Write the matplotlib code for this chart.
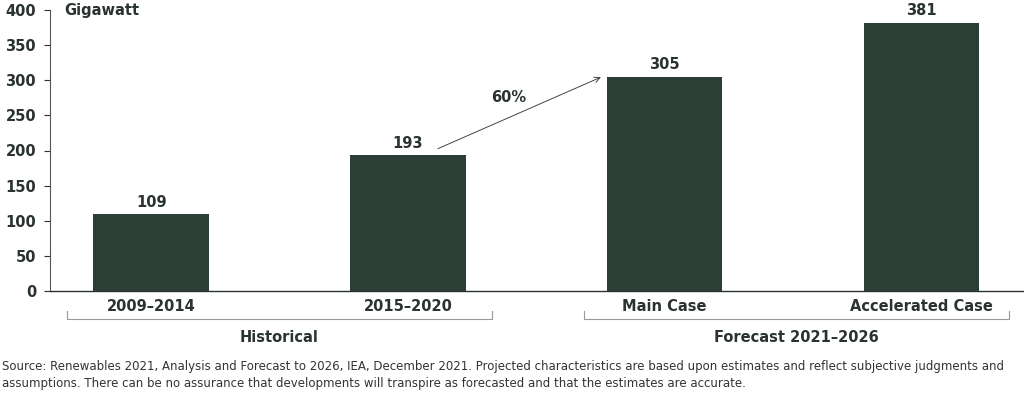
import matplotlib.pyplot as plt

# data
categories = ["2009–2014", "2015–2020", "Main Case", "Accelerated Case"]
values = [109, 193, 305, 381]
yticks = [0, 50, 100, 150, 200, 250, 300, 350, 400]
groups = ["Historical", "Forecast 2021–2026"]
growth_label = "60%"
source = ("Source: Renewables 2021, Analysis and Forecast to 2026, IEA, December 2021. Projected characteristics "
          "are based upon estimates and reflect subjective judgments and\nassumptions. There can be no assurance "
          "that developments will transpire as forecasted and that the estimates are accurate.")

dark = "#2c3f37"
txt = "#2a332f"
plt.rcParams["font.family"] = "DejaVu Sans"

fig = plt.figure(figsize=(10.24, 3.99), dpi=100)
ax = fig.add_axes([50 / 1024, 108 / 399, 974 / 1024, 281 / 399])

x = list(range(len(categories)))
ax.bar(x, values, width=0.45, color=dark)
for xi, v in zip(x, values):
    ax.text(xi, v + 7, str(v), ha="center", va="bottom", fontsize=10.5,
            fontweight="bold", color=txt)

ax.set_xlim(-0.394, 3.40)
ax.set_ylim(0, 400)
ax.set_yticks(yticks)
ax.set_xticks(x)
ax.set_xticklabels(categories, fontsize=10.5, fontweight="bold", color=txt)
ax.tick_params(axis="y", labelsize=10.5, colors=txt, length=4, width=0.8, pad=6)
ax.tick_params(axis="x", length=0, pad=6)
for lab in ax.get_yticklabels():
    lab.set_fontweight("bold")
for s in ["top", "right"]:
    ax.spines[s].set_visible(False)
ax.spines["left"].set_color("#555555")
ax.spines["left"].set_linewidth(0.8)
ax.spines["bottom"].set_color(txt)
ax.spines["bottom"].set_linewidth(1.0)

ax.text(0.015, 1.0, "Gigawatt", transform=ax.transAxes, ha="left", va="center",
        fontsize=10.5, fontweight="bold", color=txt)

# growth arrow between historical and main case
ax.annotate("", xy=(1.762, 306), xytext=(1.107, 201),
            arrowprops=dict(arrowstyle="->", color="#444444", lw=0.7))
ax.text(1.392, 275, growth_label, ha="center", va="center", fontsize=10.5,
        fontweight="bold", color=txt)

# group brackets below axis (in figure pixels)
brackets = [(67, 492), (584, 1009)]
for (x0, x1), name in zip(brackets, groups):
    y = 1 - 319 / 399
    yt = 1 - 311 / 399
    fig.add_artist(plt.Line2D([x0 / 1024, x0 / 1024, x1 / 1024, x1 / 1024], [yt, y, y, yt],
                              color="#999999", lw=0.8))
    fig.text((x0 + x1) / 2 / 1024, 1 - 337 / 399, name, ha="center", va="center",
             fontsize=10.5, fontweight="bold", color=txt)

fig.text(0.002, 1 - 375 / 399, source, ha="left", va="center", fontsize=8.5,
         color="#333333", linespacing=1.45)

fig.savefig("out.png", dpi=100, facecolor="white")
